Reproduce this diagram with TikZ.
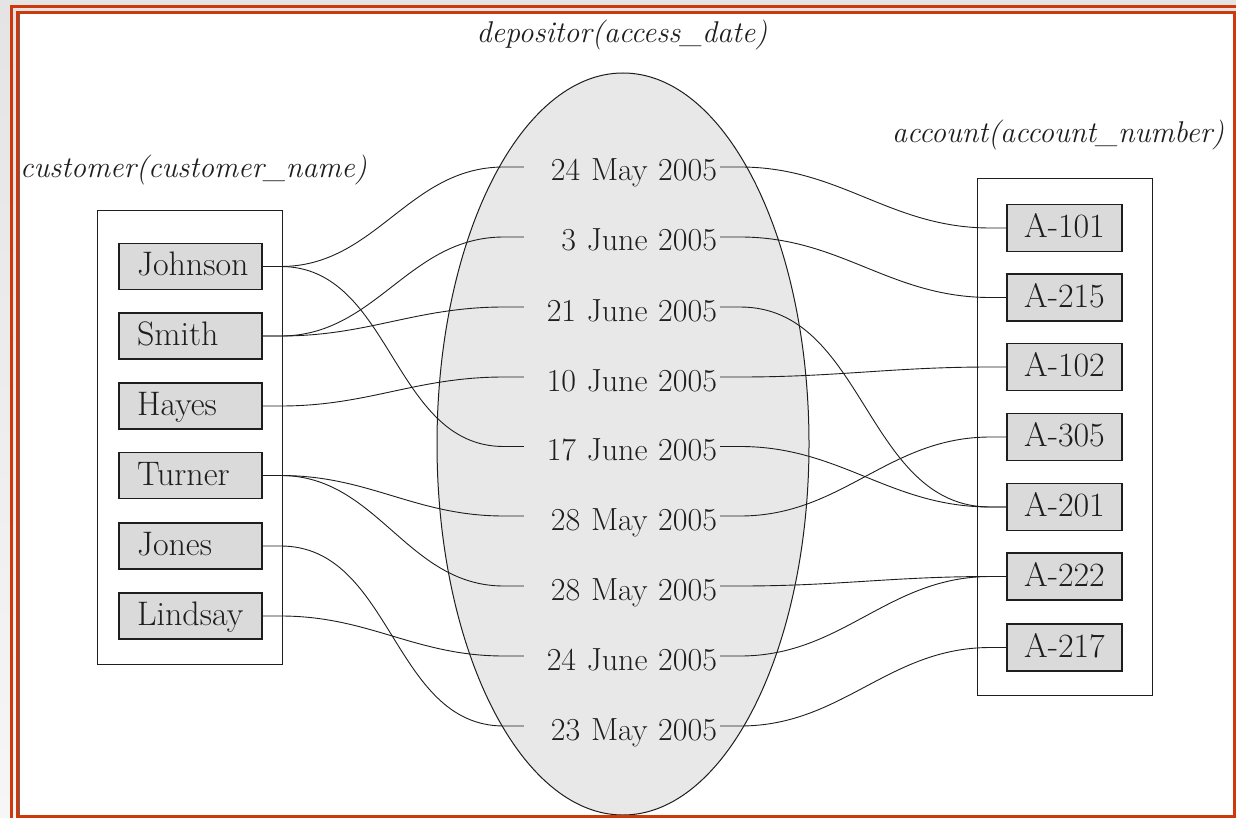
\documentclass[tikz,border=0pt]{standalone}
\usetikzlibrary{calc}
\definecolor{frameorange}{RGB}{206,56,10}
\definecolor{bgtop}{RGB}{228,228,228}
\definecolor{bgbot}{RGB}{246,246,246}
\definecolor{boxgray}{RGB}{218,218,218}
\definecolor{ellgray}{RGB}{232,232,232}
\definecolor{ink}{RGB}{30,30,30}
\begin{document}
\begin{tikzpicture}[x=1pt,y=-1pt,
  font=\fontsize{30}{36}\selectfont,
  cust/.style={draw=ink, line width=1.3pt, fill=boxgray, minimum height=46pt,
    inner xsep=0pt, inner ysep=0pt, text width=143pt, align=left,
    font=\fontsize{34}{40}\selectfont,
    execute at begin node={\hspace*{18pt}},
    text height=24pt, text depth=5pt, text=ink},
  acct/.style={draw=ink, line width=1.3pt, fill=boxgray, minimum height=47pt,
    minimum width=115pt, inner sep=0pt, text height=24pt, text depth=5pt, text=ink,
    font=\fontsize{34}{40}\selectfont},
  datelbl/.style={text width=190pt, align=right, inner xsep=3pt, inner ysep=0pt,
    font=\fontsize{32}{38}\selectfont,
    text height=28pt, text depth=0pt, text=ink},
  conn/.style={draw=ink, line width=0.9pt},
  grp/.style={draw=ink, line width=1pt},
  ttl/.style={font=\fontsize{30}{36}\selectfont\itshape, text=ink, inner sep=0pt}]
\useasboundingbox (0,0) rectangle (1236,818);
\clip (0,0) rectangle (1236,818);
% background and page
\shade[top color=bgtop, bottom color=bgbot] (0,0) rectangle (1236,818);
\fill[white] (17,12.5) rectangle (1234.5,816.5);

% ellipse
\draw[ink, fill=ellgray, line width=1pt] (623,444) ellipse [x radius=186pt, y radius=371pt];

% group boxes
\draw[grp] (97,211) rectangle (282,664);
\draw[grp] (977,179) rectangle (1152,695);

% titles
\node[ttl] (deplbl) at (622,35) {depositor(access\_date)};
\node[ttl, anchor=west] (custlbl) at (20,170) {customer(customer\_name)};
\node[ttl, anchor=west] (acclbl) at (892,135) {account(account\_number)};

% customers
\node[cust] (johnson) at (190.5,266.5) {Johnson};
\node[cust] (smith)   at (190.5,336)   {Smith};
\node[cust] (hayes)   at (190.5,406)   {Hayes};
\node[cust] (turner)  at (190.5,475.5) {Turner};
\node[cust] (jones)   at (190.5,546)   {Jones};
\node[cust] (lindsay) at (190.5,616)   {Lindsay};

% accounts
\node[acct] (a101) at (1064.5,228)   {A-101};
\node[acct] (a215) at (1064.5,297.5) {A-215};
\node[acct] (a102) at (1064.5,367)   {A-102};
\node[acct] (a305) at (1064.5,437)   {A-305};
\node[acct] (a201) at (1064.5,507)   {A-201};
\node[acct] (a222) at (1064.5,576.5) {A-222};
\node[acct] (a217) at (1064.5,647.5) {A-217};

% dates
\node[datelbl] (d1) at (622,167)   {24 May 2005};
\node[datelbl] (d2) at (622,237)   {3 June 2005};
\node[datelbl] (d3) at (622,307)   {21 June 2005};
\node[datelbl] (d4) at (622,377)   {10 June 2005};
\node[datelbl] (d5) at (622,446.5) {17 June 2005};
\node[datelbl] (d6) at (622,516)   {28 May 2005};
\node[datelbl] (d7) at (622,586)   {28 May 2005};
\node[datelbl] (d8) at (622,656)   {24 June 2005};
\node[datelbl] (d9) at (622,726)   {23 May 2005};

% connectors customer -> date
\foreach \a/\b in {johnson/d1, johnson/d5, smith/d2, smith/d3, hayes/d4,
                   turner/d6, turner/d7, jones/d9, lindsay/d8}
  \draw[conn] (\a.east) -- ++(18,0) to[out=0,in=180] ([xshift=-20pt]\b.west) -- (\b.west);

% connectors date -> account
\foreach \a/\b in {d1/a101, d2/a215, d3/a201, d4/a102, d5/a201,
                   d6/a305, d7/a222, d8/a222, d9/a217}
  \draw[conn] (\a.east) -- ++(20,0) to[out=0,in=180] ([xshift=-16pt]\b.west) -- (\b.west);

% frame
\draw[frameorange, line width=3pt] (11.5,840) -- (11.5,6.5) -- (1260,6.5);
\draw[frameorange, line width=3pt] (17,12.5) rectangle (1234.5,816.5);
\draw[black!60, line width=1.5pt] (19.5,14) -- (19.5,815);
\end{tikzpicture}
\end{document}
